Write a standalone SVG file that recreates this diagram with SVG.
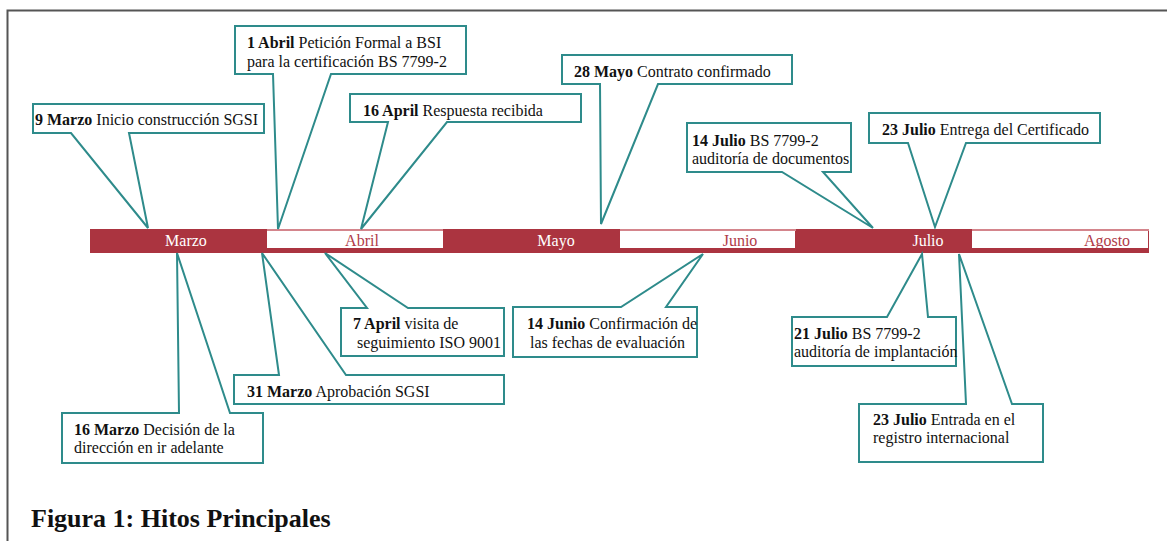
<svg xmlns="http://www.w3.org/2000/svg" width="1167" height="541" viewBox="0 0 1167 541">
<style>
.frame{fill:none;stroke:#555;stroke-width:2}
.bar{fill:#ab3440}
.seg{fill:#fff}
.segtop{fill:#d4858c}
text{font-family:"Liberation Serif","Times New Roman",serif}
.ml{font-size:16px;fill:#fff}
.mr{font-size:16px;fill:#b03a48}
.co{fill:#fff;stroke:#2e8b8b;stroke-width:2;stroke-linejoin:miter}
.t{font-size:16px;fill:#111}
.b{font-weight:bold}
.title{font-size:26px;font-weight:bold;fill:#111}
</style>
<rect width="1167" height="541" fill="#fff"/>
<path class="frame" d="M7.5,541 V10.5 H1167"/>
<g id="timeline">
<rect class="bar" x="90" y="229" width="1059" height="24"/>
<rect class="segtop" x="267" y="229" width="176" height="2"/>
<rect class="segtop" x="620" y="229" width="176" height="2"/>
<rect class="segtop" x="972" y="229" width="177" height="2"/>
<rect class="seg" x="267" y="231" width="176" height="17"/>
<rect class="seg" x="620" y="231" width="175" height="17"/>
<rect class="seg" x="972" y="231" width="176" height="17"/>
<text class="ml" x="186" y="246" text-anchor="middle">Marzo</text>
<text class="mr" x="362" y="246" text-anchor="middle">Abril</text>
<text class="ml" x="556" y="246" text-anchor="middle">Mayo</text>
<text class="mr" x="740" y="246" text-anchor="middle">Junio</text>
<text class="ml" x="928" y="246" text-anchor="middle">Julio</text>
<text class="mr" x="1107" y="246" text-anchor="middle">Agosto</text>
</g>
<g id="connectors"></g>
<g id="c-9marzo">
<path class="co" d="M33,104 H264 V133 H129 L148,228 L71,133 H33 Z"/>
<text class="t" x="35" y="125"><tspan class="b">9 Marzo</tspan> Inicio construcción SGSI</text>
</g>
<g id="c-1abril">
<path class="co" d="M235,26 H466 V74 H331 L278,229 L273,74 H235 Z"/>
<text class="t" x="247" y="48"><tspan class="b">1 Abril</tspan> Petición Formal a BSI</text>
<text class="t" x="247" y="67">para la certificación BS 7799-2</text>
</g>
<g id="c-16april">
<path class="co" d="M350,94 H581 V122 H447 L361,229 L388,122 H350 Z"/>
<text class="t" x="363" y="116"><tspan class="b">16 April</tspan> Respuesta recibida</text>
</g>
<g id="c-28mayo">
<path class="co" d="M562,55 H792 V84 H658 L601,224 L600,84 H562 Z"/>
<text class="t" x="574" y="77"><tspan class="b">28 Mayo</tspan> Contrato confirmado</text>
</g>
<g id="c-14julio">
<path class="co" d="M687,123 H851 V172 H823 L873,228 L782,172 H687 Z"/>
<text class="t" x="692" y="146"><tspan class="b">14 Julio</tspan> BS 7799-2</text>
<text class="t" x="692" y="164">auditoría de documentos</text>
</g>
<g id="c-23julio-a">
<path class="co" d="M869,113 H1100 V143 H966 L935,227 L908,143 H869 Z"/>
<text class="t" x="882" y="135"><tspan class="b">23 Julio</tspan> Entrega del Certificado</text>
</g>
<g id="c-16marzo">
<path class="co" d="M62,413 H179 L177,253 L230,413 H263 V463 H62 Z"/>
<text class="t" x="74" y="435"><tspan class="b">16 Marzo</tspan> Decisión de la</text>
<text class="t" x="74" y="453">dirección en ir adelante</text>
</g>
<g id="c-31marzo">
<path class="co" d="M234,375 H279 L262,253 L346,375 H504 V404 H234 Z"/>
<text class="t" x="247" y="397"><tspan class="b">31 Marzo</tspan> Aprobación SGSI</text>
</g>
<g id="c-7april">
<path class="co" d="M341,308 H367 L325,253 L408,308 H504 V356 H341 Z"/>
<text class="t" x="353" y="329"><tspan class="b">7 April</tspan> visita de</text>
<text class="t" x="357" y="348">seguimiento ISO 9001</text>
</g>
<g id="c-14junio">
<path class="co" d="M513,307 H621 L703,254 L666,307 H697 V357 H513 Z"/>
<text class="t" x="527" y="329"><tspan class="b">14 Junio</tspan> Confirmación de</text>
<text class="t" x="530" y="348">las fechas de evaluación</text>
</g>
<g id="c-21julio">
<path class="co" d="M792,317 H887 L922,254 L928,317 H956 V366 H792 Z"/>
<text class="t" x="794" y="339"><tspan class="b">21 Julio</tspan> BS 7799-2</text>
<text class="t" x="794" y="357">auditoría de implantación</text>
</g>
<g id="c-23julio-b">
<path class="co" d="M859,404 H966 L959,254 L1012,404 H1043 V462 H859 Z"/>
<text class="t" x="873" y="425"><tspan class="b">23 Julio</tspan> Entrada en el</text>
<text class="t" x="873" y="443">registro internacional</text>
</g>
<text class="title" x="31" y="527">Figura 1: Hitos Principales</text>
</svg>
